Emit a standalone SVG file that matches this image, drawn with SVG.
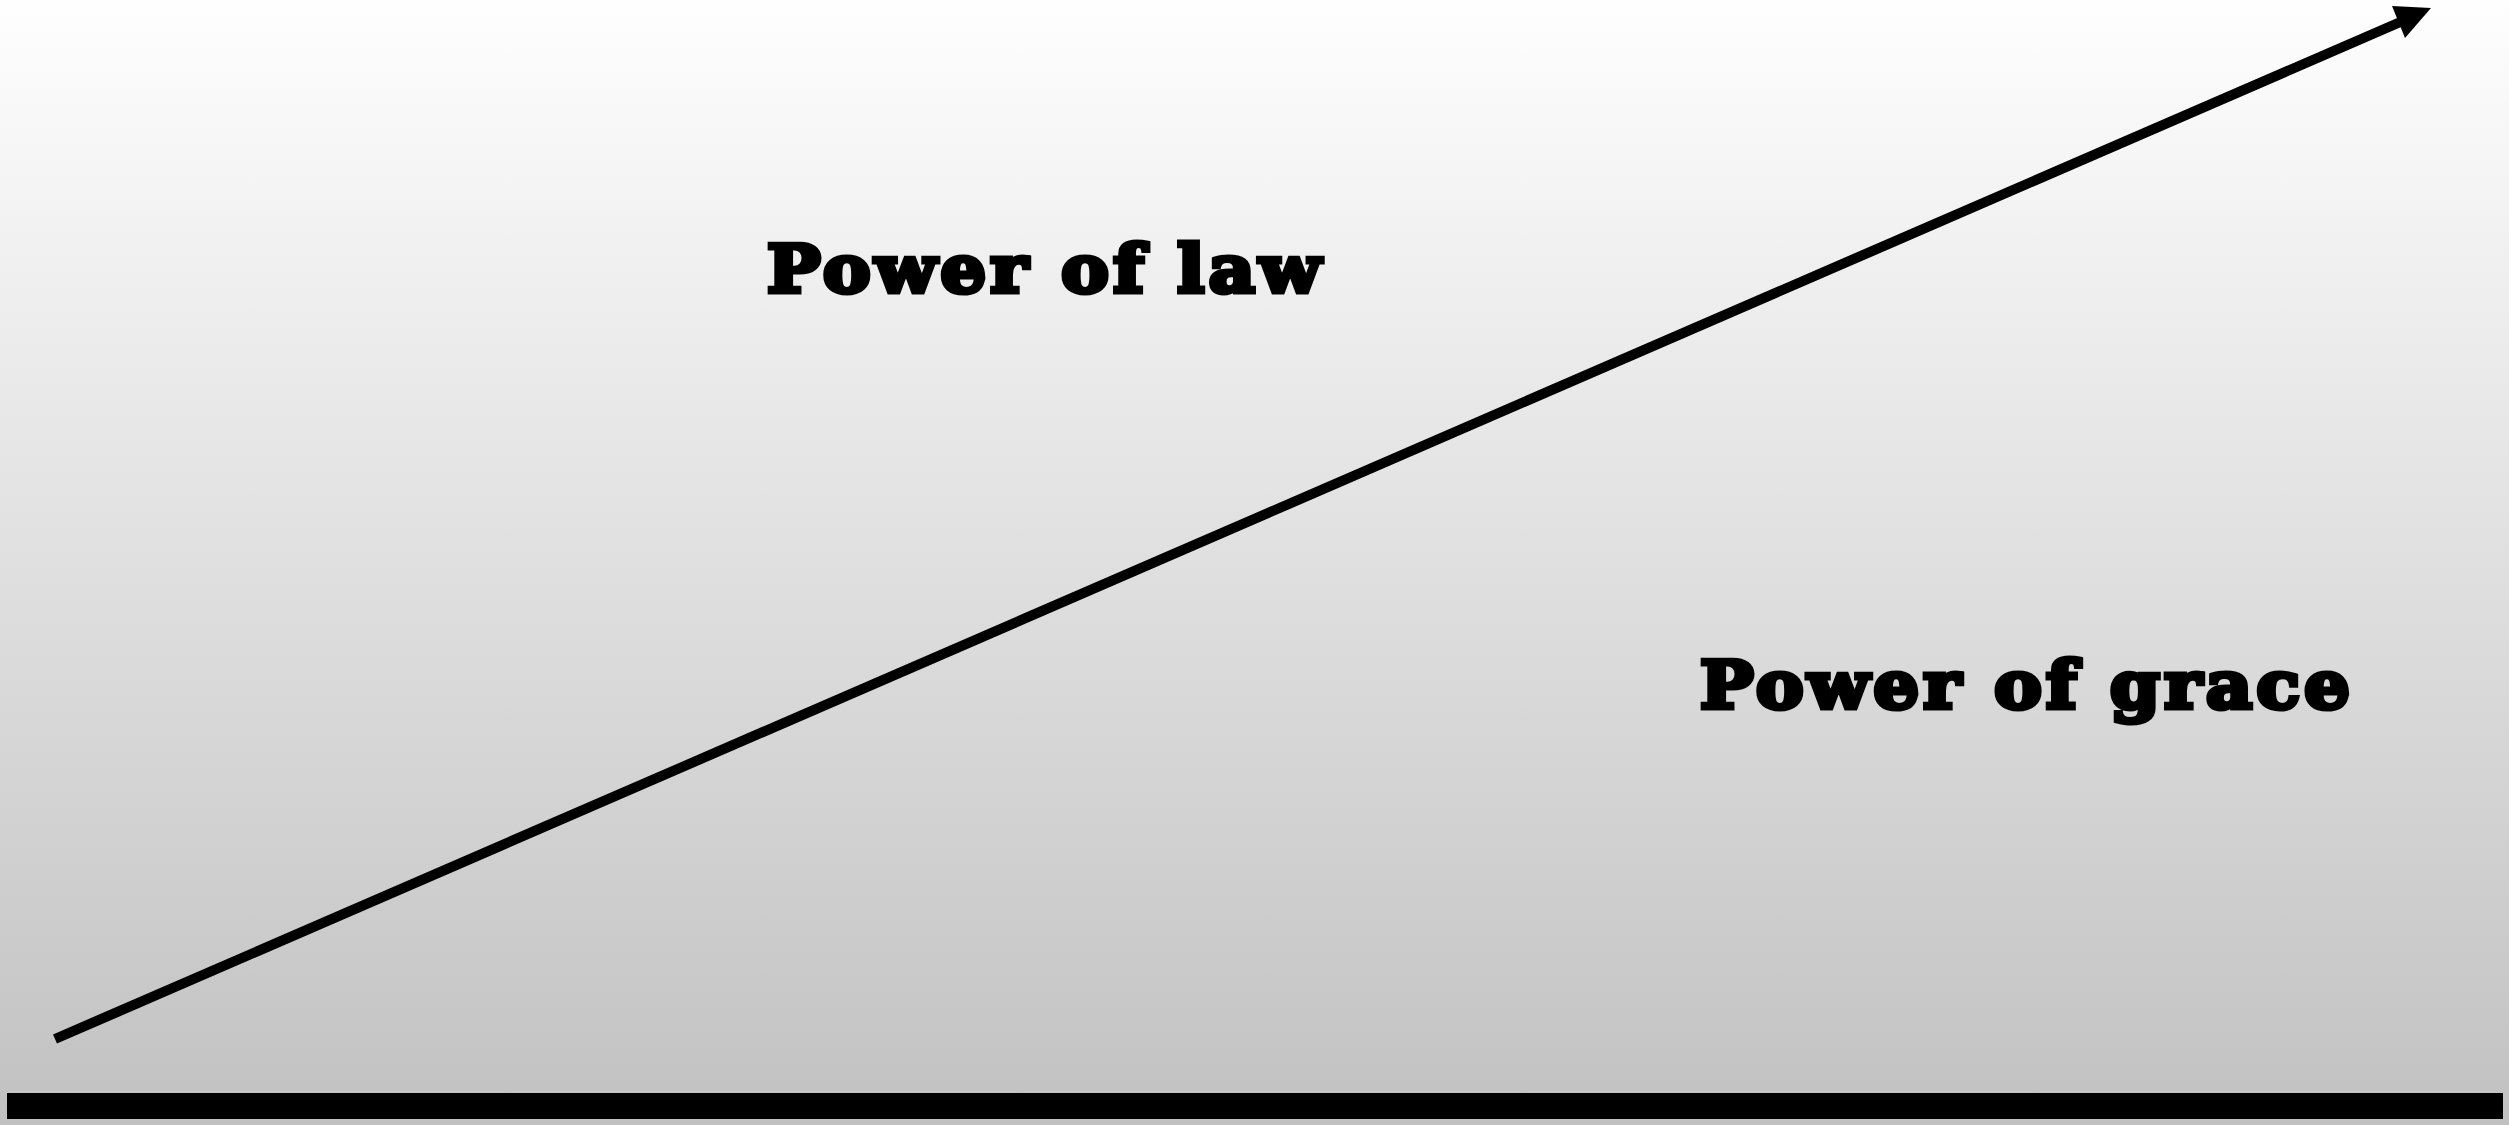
<svg xmlns="http://www.w3.org/2000/svg" width="2509" height="1125" viewBox="0 0 2509 1125">
<defs>
<linearGradient id="bg" x1="0" y1="0" x2="0" y2="1">
<stop offset="0" stop-color="#fefefe"/>
<stop offset="1" stop-color="#c1c1c1"/>
</linearGradient>
<style>
.lbl{font-family:"DejaVu Serif","Liberation Serif",serif;font-weight:bold;font-size:66px;letter-spacing:4px;fill:#000;stroke:#000;stroke-width:5px;stroke-linejoin:miter}
</style>
</defs>
<rect x="0" y="0" width="2509" height="1125" fill="url(#bg)"/>
<g id="connectors">
<line x1="55" y1="1039" x2="2405" y2="20" stroke="#000" stroke-width="10"/>
<polygon points="2431,8 2392,6 2405,38" fill="#000"/>
</g>
<g id="baseline">
<rect x="7" y="1093" width="2496" height="26" fill="#000"/>
</g>
<g id="law">
<text class="lbl" x="767" y="292" textLength="558" lengthAdjust="spacingAndGlyphs">Power of law</text>
</g>
<g id="grace">
<text class="lbl" x="1700" y="708" textLength="654" lengthAdjust="spacingAndGlyphs">Power of grace</text>
</g>
</svg>
